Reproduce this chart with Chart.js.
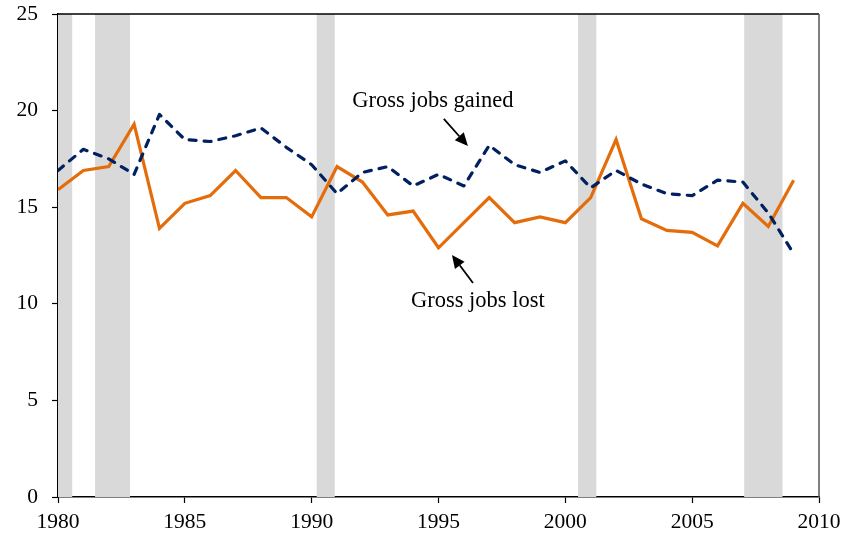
<!DOCTYPE html>
<html>
<head>
<meta charset="utf-8">
<script src="https://cdn.jsdelivr.net/npm/chart.js@4.4.1/dist/chart.umd.min.js"></script>
<style>
  body { margin: 0; background: #fff; }
  canvas { display: block; }
</style>
</head>
<body>
<canvas id="grafico" width="845" height="537"></canvas>
<script>
var anos = [1980, 1981, 1982, 1983, 1984, 1985, 1986, 1987, 1988, 1989,
            1990, 1991, 1992, 1993, 1994, 1995, 1996, 1997, 1998, 1999,
            2000, 2001, 2002, 2003, 2004, 2005, 2006, 2007, 2008, 2009];
var empregosGanhos = [16.9, 18.0, 17.5, 16.7, 19.8, 18.5, 18.4, 18.7, 19.1, 18.1,
                      17.2, 15.7, 16.8, 17.1, 16.1, 16.7, 16.1, 18.2, 17.2, 16.8,
                      17.4, 16.0, 16.9, 16.2, 15.7, 15.6, 16.4, 16.3, 14.7, 12.6];
var empregosPerdidos = [15.9, 16.9, 17.1, 19.3, 13.9, 15.2, 15.6, 16.9, 15.5, 15.5,
                        14.5, 17.1, 16.3, 14.6, 14.8, 12.9, 14.2, 15.5, 14.2, 14.5,
                        14.2, 15.5, 18.5, 14.4, 13.8, 13.7, 13.0, 15.2, 14.0, 16.4];
// faixas de recessao [inicio, fim]
var recessoes = [[1980.0, 1980.56], [1981.46, 1982.84], [1990.2, 1990.91],
                 [2000.5, 2001.22], [2007.05, 2008.56]];
var ticksX = [1980, 1985, 1990, 1995, 2000, 2005, 2010];
var ticksY = [0, 5, 10, 15, 20, 25];

var fonte = '"Liberation Serif", "Times New Roman", serif';

function pares(ys) {
    return anos.map(function (a, i) { return { x: a, y: ys[i] }; });
}

// sombreado das recessoes, por tras das linhas
var faixas = {
    id: 'faixas',
    beforeDatasetsDraw: function (chart) {
        var ctx = chart.ctx, area = chart.chartArea, sx = chart.scales.x;
        ctx.save();
        ctx.fillStyle = '#d9d9d9';
        recessoes.forEach(function (r) {
            var x0 = sx.getPixelForValue(r[0]);
            var x1 = sx.getPixelForValue(r[1]);
            ctx.fillRect(x0, area.top, x1 - x0, area.bottom - area.top);
        });
        ctx.restore();
    }
};

function seta(ctx, x0, y0, x1, y1) {
    var ang = Math.atan2(y1 - y0, x1 - x0), L = 13, W = 6;
    var bx = x1 - L * Math.cos(ang), by = y1 - L * Math.sin(ang);
    ctx.beginPath();
    ctx.moveTo(x0, y0);
    ctx.lineTo(bx, by);
    ctx.stroke();
    ctx.beginPath();
    ctx.moveTo(x1, y1);
    ctx.lineTo(bx + W * Math.sin(ang), by - W * Math.cos(ang));
    ctx.lineTo(bx - W * Math.sin(ang), by + W * Math.cos(ang));
    ctx.closePath();
    ctx.fill();
}

// moldura, rotulos e setas
var notas = {
    id: 'notas',
    afterDraw: function (chart) {
        var ctx = chart.ctx, a = chart.chartArea;
        var sx = chart.scales.x, sy = chart.scales.y;
        ctx.save();
        ctx.strokeStyle = '#000';
        ctx.lineWidth = 1.5;
        ctx.beginPath();
        ctx.moveTo(a.left, a.top);
        ctx.lineTo(a.right, a.top);
        ctx.stroke();
        ctx.strokeStyle = '#555';
        ctx.beginPath();
        ctx.moveTo(a.right, a.top);
        ctx.lineTo(a.right, a.bottom);
        ctx.stroke();

        ctx.fillStyle = '#000';
        ctx.font = '22.5px ' + fonte;
        ctx.textAlign = 'center';
        ctx.textBaseline = 'middle';
        ctx.fillText('Gross jobs gained', sx.getPixelForValue(1994.78), sy.getPixelForValue(20.5));
        ctx.fillText('Gross jobs lost', sx.getPixelForValue(1996.55), sy.getPixelForValue(10.14));

        ctx.strokeStyle = '#000';
        ctx.lineWidth = 1.8;
        seta(ctx, sx.getPixelForValue(1995.21), sy.getPixelForValue(19.57),
                  sx.getPixelForValue(1996.16), sy.getPixelForValue(18.17));
        seta(ctx, sx.getPixelForValue(1996.36), sy.getPixelForValue(11.08),
                  sx.getPixelForValue(1995.53), sy.getPixelForValue(12.53));
        ctx.restore();
    }
};

new Chart(document.getElementById('grafico').getContext('2d'), {
    type: 'line',
    data: {
        datasets: [{
            label: 'Gross jobs gained',
            data: pares(empregosGanhos),
            borderColor: '#002060',
            borderWidth: 3.2,
            borderDash: [7, 8],
            borderCapStyle: 'round',
            borderJoinStyle: 'round',
            pointRadius: 0,
            tension: 0
        }, {
            label: 'Gross jobs lost',
            data: pares(empregosPerdidos),
            borderColor: '#e46c0a',
            borderWidth: 3.2,
            borderJoinStyle: 'miter',
            pointRadius: 0,
            tension: 0
        }]
    },
    options: {
        responsive: false,
        animation: false,
        layout: { padding: { top: 14, right: 26, left: 0, bottom: 0 } },
        plugins: { legend: { display: false }, tooltip: { enabled: false } },
        scales: {
            x: {
                type: 'linear',
                min: 1980,
                max: 2010,
                afterFit: function (s) {
                    s.height = 40;
                    s.paddingLeft = 0;
                    s.paddingRight = 0;
                },
                afterBuildTicks: function (s) {
                    s.ticks = ticksX.map(function (v) { return { value: v }; });
                },
                ticks: {
                    callback: function (v) { return String(v); },
                    color: '#000',
                    font: { family: fonte, size: 21.5 },
                    padding: 6,
                    maxRotation: 0
                },
                grid: { drawOnChartArea: false, tickLength: 6, color: '#000', tickWidth: 1.2 },
                border: { display: true, color: '#000', width: 1.5 }
            },
            y: {
                min: 0,
                max: 25,
                afterFit: function (s) {
                    s.width = 58;
                    s.paddingTop = 0;
                    s.paddingBottom = 0;
                },
                afterBuildTicks: function (s) {
                    s.ticks = ticksY.map(function (v) { return { value: v }; });
                },
                ticks: {
                    color: '#000',
                    font: { family: fonte, size: 21.5 },
                    padding: 14
                },
                grid: { drawOnChartArea: false, tickLength: 6, color: '#000', tickWidth: 1.2 },
                border: { display: true, color: '#000', width: 1.5 }
            }
        }
    },
    plugins: [faixas, notas]
});
</script>
</body>
</html>
